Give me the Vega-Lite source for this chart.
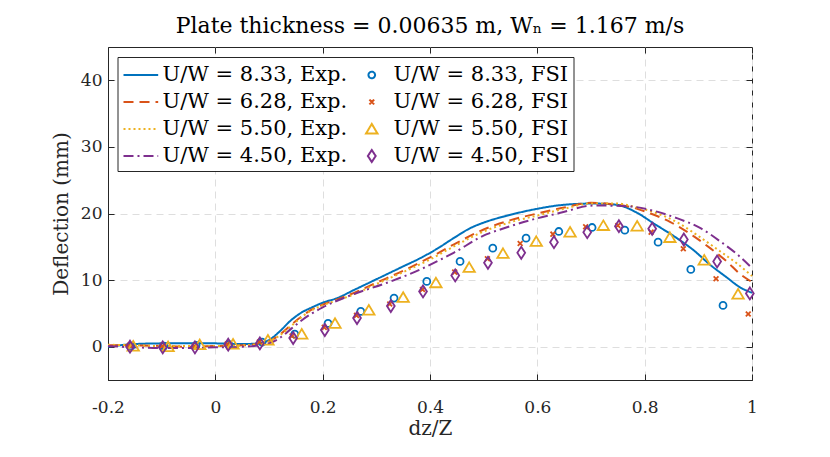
{
  "$schema": "https://vega.github.io/schema/vega-lite/v6.json",
  "width": 644,
  "height": 333,
  "autosize": "none",
  "padding": {"left": 108, "top": 47, "right": 78, "bottom": 77},
  "background": "white",
  "title": {
    "text": "Plate thickness = 0.00635 m, Wₙ = 1.167 m/s",
    "font": "DejaVu Serif",
    "fontSize": 22,
    "fontWeight": "normal",
    "color": "black",
    "anchor": "middle",
    "offset": 9
  },
  "datasets": {
    "exp": [
      {"s": "U/W = 8.33, Exp.", "x": -0.2, "y": 0.0},
      {"s": "U/W = 8.33, Exp.", "x": -0.15, "y": 0.4},
      {"s": "U/W = 8.33, Exp.", "x": -0.1, "y": 0.5},
      {"s": "U/W = 8.33, Exp.", "x": -0.05, "y": 0.5},
      {"s": "U/W = 8.33, Exp.", "x": 0.0, "y": 0.5},
      {"s": "U/W = 8.33, Exp.", "x": 0.05, "y": 0.4},
      {"s": "U/W = 8.33, Exp.", "x": 0.08, "y": 0.5},
      {"s": "U/W = 8.33, Exp.", "x": 0.1, "y": 1.0},
      {"s": "U/W = 8.33, Exp.", "x": 0.12, "y": 2.3},
      {"s": "U/W = 8.33, Exp.", "x": 0.14, "y": 3.9},
      {"s": "U/W = 8.33, Exp.", "x": 0.16, "y": 5.1},
      {"s": "U/W = 8.33, Exp.", "x": 0.18, "y": 5.9},
      {"s": "U/W = 8.33, Exp.", "x": 0.2, "y": 6.6},
      {"s": "U/W = 8.33, Exp.", "x": 0.227, "y": 7.3},
      {"s": "U/W = 8.33, Exp.", "x": 0.258, "y": 8.5},
      {"s": "U/W = 8.33, Exp.", "x": 0.289, "y": 9.7},
      {"s": "U/W = 8.33, Exp.", "x": 0.32, "y": 10.9},
      {"s": "U/W = 8.33, Exp.", "x": 0.351, "y": 12.1},
      {"s": "U/W = 8.33, Exp.", "x": 0.382, "y": 13.3},
      {"s": "U/W = 8.33, Exp.", "x": 0.413, "y": 14.7},
      {"s": "U/W = 8.33, Exp.", "x": 0.444, "y": 16.3},
      {"s": "U/W = 8.33, Exp.", "x": 0.475, "y": 17.8},
      {"s": "U/W = 8.33, Exp.", "x": 0.506, "y": 18.8},
      {"s": "U/W = 8.33, Exp.", "x": 0.54, "y": 19.6},
      {"s": "U/W = 8.33, Exp.", "x": 0.587, "y": 20.5},
      {"s": "U/W = 8.33, Exp.", "x": 0.649, "y": 21.3},
      {"s": "U/W = 8.33, Exp.", "x": 0.705, "y": 21.5},
      {"s": "U/W = 8.33, Exp.", "x": 0.748, "y": 21.3},
      {"s": "U/W = 8.33, Exp.", "x": 0.786, "y": 20.1},
      {"s": "U/W = 8.33, Exp.", "x": 0.817, "y": 18.5},
      {"s": "U/W = 8.33, Exp.", "x": 0.86, "y": 16.3},
      {"s": "U/W = 8.33, Exp.", "x": 0.891, "y": 14.5},
      {"s": "U/W = 8.33, Exp.", "x": 0.922, "y": 12.3},
      {"s": "U/W = 8.33, Exp.", "x": 0.953, "y": 10.4},
      {"s": "U/W = 8.33, Exp.", "x": 0.978, "y": 8.9},
      {"s": "U/W = 8.33, Exp.", "x": 1.0, "y": 8.1},
      {"s": "U/W = 6.28, Exp.", "x": -0.2, "y": 0.2},
      {"s": "U/W = 6.28, Exp.", "x": -0.15, "y": 0.2},
      {"s": "U/W = 6.28, Exp.", "x": -0.1, "y": 0.1},
      {"s": "U/W = 6.28, Exp.", "x": -0.05, "y": 0.0},
      {"s": "U/W = 6.28, Exp.", "x": 0.0, "y": 0.1},
      {"s": "U/W = 6.28, Exp.", "x": 0.05, "y": 0.2},
      {"s": "U/W = 6.28, Exp.", "x": 0.08, "y": 0.4},
      {"s": "U/W = 6.28, Exp.", "x": 0.1, "y": 0.8},
      {"s": "U/W = 6.28, Exp.", "x": 0.12, "y": 1.8},
      {"s": "U/W = 6.28, Exp.", "x": 0.14, "y": 3.2},
      {"s": "U/W = 6.28, Exp.", "x": 0.16, "y": 4.5},
      {"s": "U/W = 6.28, Exp.", "x": 0.18, "y": 5.6},
      {"s": "U/W = 6.28, Exp.", "x": 0.2, "y": 6.3},
      {"s": "U/W = 6.28, Exp.", "x": 0.25, "y": 7.8},
      {"s": "U/W = 6.28, Exp.", "x": 0.3, "y": 9.6},
      {"s": "U/W = 6.28, Exp.", "x": 0.35, "y": 11.4},
      {"s": "U/W = 6.28, Exp.", "x": 0.4, "y": 13.4},
      {"s": "U/W = 6.28, Exp.", "x": 0.45, "y": 15.6},
      {"s": "U/W = 6.28, Exp.", "x": 0.5, "y": 17.6},
      {"s": "U/W = 6.28, Exp.", "x": 0.55, "y": 19.0},
      {"s": "U/W = 6.28, Exp.", "x": 0.6, "y": 20.0},
      {"s": "U/W = 6.28, Exp.", "x": 0.65, "y": 20.9},
      {"s": "U/W = 6.28, Exp.", "x": 0.7, "y": 21.6},
      {"s": "U/W = 6.28, Exp.", "x": 0.767, "y": 21.1},
      {"s": "U/W = 6.28, Exp.", "x": 0.811, "y": 20.0},
      {"s": "U/W = 6.28, Exp.", "x": 0.848, "y": 18.7},
      {"s": "U/W = 6.28, Exp.", "x": 0.891, "y": 16.6},
      {"s": "U/W = 6.28, Exp.", "x": 0.922, "y": 14.8},
      {"s": "U/W = 6.28, Exp.", "x": 0.953, "y": 12.8},
      {"s": "U/W = 6.28, Exp.", "x": 0.978, "y": 10.9},
      {"s": "U/W = 6.28, Exp.", "x": 1.0, "y": 9.7},
      {"s": "U/W = 5.50, Exp.", "x": -0.2, "y": 0.3},
      {"s": "U/W = 5.50, Exp.", "x": -0.15, "y": 0.2},
      {"s": "U/W = 5.50, Exp.", "x": -0.1, "y": 0.1},
      {"s": "U/W = 5.50, Exp.", "x": -0.05, "y": 0.1},
      {"s": "U/W = 5.50, Exp.", "x": 0.0, "y": 0.1},
      {"s": "U/W = 5.50, Exp.", "x": 0.05, "y": 0.2},
      {"s": "U/W = 5.50, Exp.", "x": 0.08, "y": 0.4},
      {"s": "U/W = 5.50, Exp.", "x": 0.1, "y": 0.8},
      {"s": "U/W = 5.50, Exp.", "x": 0.12, "y": 1.7},
      {"s": "U/W = 5.50, Exp.", "x": 0.14, "y": 3.0},
      {"s": "U/W = 5.50, Exp.", "x": 0.16, "y": 4.4},
      {"s": "U/W = 5.50, Exp.", "x": 0.18, "y": 5.5},
      {"s": "U/W = 5.50, Exp.", "x": 0.2, "y": 6.2},
      {"s": "U/W = 5.50, Exp.", "x": 0.25, "y": 7.6},
      {"s": "U/W = 5.50, Exp.", "x": 0.3, "y": 9.4},
      {"s": "U/W = 5.50, Exp.", "x": 0.35, "y": 11.2},
      {"s": "U/W = 5.50, Exp.", "x": 0.4, "y": 13.1},
      {"s": "U/W = 5.50, Exp.", "x": 0.45, "y": 15.3},
      {"s": "U/W = 5.50, Exp.", "x": 0.5, "y": 17.3},
      {"s": "U/W = 5.50, Exp.", "x": 0.55, "y": 18.7},
      {"s": "U/W = 5.50, Exp.", "x": 0.6, "y": 19.7},
      {"s": "U/W = 5.50, Exp.", "x": 0.65, "y": 20.7},
      {"s": "U/W = 5.50, Exp.", "x": 0.7, "y": 21.5},
      {"s": "U/W = 5.50, Exp.", "x": 0.75, "y": 21.5},
      {"s": "U/W = 5.50, Exp.", "x": 0.78, "y": 21.0},
      {"s": "U/W = 5.50, Exp.", "x": 0.817, "y": 20.2},
      {"s": "U/W = 5.50, Exp.", "x": 0.86, "y": 18.7},
      {"s": "U/W = 5.50, Exp.", "x": 0.904, "y": 16.4},
      {"s": "U/W = 5.50, Exp.", "x": 0.941, "y": 14.3},
      {"s": "U/W = 5.50, Exp.", "x": 0.972, "y": 12.5},
      {"s": "U/W = 5.50, Exp.", "x": 1.0, "y": 10.6},
      {"s": "U/W = 4.50, Exp.", "x": -0.2, "y": 0.1},
      {"s": "U/W = 4.50, Exp.", "x": -0.15, "y": -0.1},
      {"s": "U/W = 4.50, Exp.", "x": -0.1, "y": -0.2},
      {"s": "U/W = 4.50, Exp.", "x": -0.05, "y": -0.2},
      {"s": "U/W = 4.50, Exp.", "x": 0.0, "y": -0.1},
      {"s": "U/W = 4.50, Exp.", "x": 0.05, "y": 0.0},
      {"s": "U/W = 4.50, Exp.", "x": 0.08, "y": 0.2},
      {"s": "U/W = 4.50, Exp.", "x": 0.1, "y": 0.5},
      {"s": "U/W = 4.50, Exp.", "x": 0.12, "y": 1.3},
      {"s": "U/W = 4.50, Exp.", "x": 0.14, "y": 2.6},
      {"s": "U/W = 4.50, Exp.", "x": 0.16, "y": 3.9},
      {"s": "U/W = 4.50, Exp.", "x": 0.18, "y": 5.0},
      {"s": "U/W = 4.50, Exp.", "x": 0.2, "y": 5.9},
      {"s": "U/W = 4.50, Exp.", "x": 0.258, "y": 7.9},
      {"s": "U/W = 4.50, Exp.", "x": 0.32, "y": 9.6},
      {"s": "U/W = 4.50, Exp.", "x": 0.382, "y": 11.6},
      {"s": "U/W = 4.50, Exp.", "x": 0.444, "y": 14.1},
      {"s": "U/W = 4.50, Exp.", "x": 0.506, "y": 16.9},
      {"s": "U/W = 4.50, Exp.", "x": 0.531, "y": 17.6},
      {"s": "U/W = 4.50, Exp.", "x": 0.587, "y": 19.0},
      {"s": "U/W = 4.50, Exp.", "x": 0.643, "y": 20.1},
      {"s": "U/W = 4.50, Exp.", "x": 0.705, "y": 21.2},
      {"s": "U/W = 4.50, Exp.", "x": 0.767, "y": 21.1},
      {"s": "U/W = 4.50, Exp.", "x": 0.817, "y": 20.4},
      {"s": "U/W = 4.50, Exp.", "x": 0.86, "y": 19.3},
      {"s": "U/W = 4.50, Exp.", "x": 0.904, "y": 17.8},
      {"s": "U/W = 4.50, Exp.", "x": 0.941, "y": 15.8},
      {"s": "U/W = 4.50, Exp.", "x": 0.972, "y": 13.9},
      {"s": "U/W = 4.50, Exp.", "x": 1.0, "y": 11.8}
    ],
    "fsi": [
      {"s": "U/W = 8.33, FSI", "x": -0.157, "y": 0.1},
      {"s": "U/W = 8.33, FSI", "x": -0.096, "y": 0.1},
      {"s": "U/W = 8.33, FSI", "x": -0.036, "y": 0.2},
      {"s": "U/W = 8.33, FSI", "x": 0.025, "y": 0.3},
      {"s": "U/W = 8.33, FSI", "x": 0.087, "y": 0.7},
      {"s": "U/W = 8.33, FSI", "x": 0.148, "y": 1.9},
      {"s": "U/W = 8.33, FSI", "x": 0.21, "y": 3.5},
      {"s": "U/W = 8.33, FSI", "x": 0.271, "y": 5.3},
      {"s": "U/W = 8.33, FSI", "x": 0.333, "y": 7.3},
      {"s": "U/W = 8.33, FSI", "x": 0.394, "y": 9.8},
      {"s": "U/W = 8.33, FSI", "x": 0.456, "y": 12.8},
      {"s": "U/W = 8.33, FSI", "x": 0.517, "y": 14.8},
      {"s": "U/W = 8.33, FSI", "x": 0.579, "y": 16.3},
      {"s": "U/W = 8.33, FSI", "x": 0.64, "y": 17.3},
      {"s": "U/W = 8.33, FSI", "x": 0.702, "y": 17.9},
      {"s": "U/W = 8.33, FSI", "x": 0.763, "y": 17.5},
      {"s": "U/W = 8.33, FSI", "x": 0.825, "y": 15.7},
      {"s": "U/W = 8.33, FSI", "x": 0.886, "y": 11.6},
      {"s": "U/W = 8.33, FSI", "x": 0.946, "y": 6.2},
      {"s": "U/W = 6.28, FSI", "x": -0.16, "y": 0.2},
      {"s": "U/W = 6.28, FSI", "x": -0.099, "y": 0.1},
      {"s": "U/W = 6.28, FSI", "x": -0.039, "y": 0.1},
      {"s": "U/W = 6.28, FSI", "x": 0.022, "y": 0.4},
      {"s": "U/W = 6.28, FSI", "x": 0.082, "y": 0.7},
      {"s": "U/W = 6.28, FSI", "x": 0.143, "y": 1.6},
      {"s": "U/W = 6.28, FSI", "x": 0.203, "y": 2.9},
      {"s": "U/W = 6.28, FSI", "x": 0.263, "y": 4.7},
      {"s": "U/W = 6.28, FSI", "x": 0.325, "y": 6.4},
      {"s": "U/W = 6.28, FSI", "x": 0.386, "y": 8.6},
      {"s": "U/W = 6.28, FSI", "x": 0.446, "y": 11.2},
      {"s": "U/W = 6.28, FSI", "x": 0.507, "y": 13.2},
      {"s": "U/W = 6.28, FSI", "x": 0.568, "y": 15.5},
      {"s": "U/W = 6.28, FSI", "x": 0.629, "y": 16.9},
      {"s": "U/W = 6.28, FSI", "x": 0.69, "y": 18.0},
      {"s": "U/W = 6.28, FSI", "x": 0.75, "y": 18.2},
      {"s": "U/W = 6.28, FSI", "x": 0.812, "y": 17.2},
      {"s": "U/W = 6.28, FSI", "x": 0.872, "y": 14.7},
      {"s": "U/W = 6.28, FSI", "x": 0.933, "y": 10.2},
      {"s": "U/W = 6.28, FSI", "x": 0.993, "y": 4.9},
      {"s": "U/W = 5.50, FSI", "x": -0.153, "y": 0.1},
      {"s": "U/W = 5.50, FSI", "x": -0.088, "y": 0.0},
      {"s": "U/W = 5.50, FSI", "x": -0.029, "y": 0.3},
      {"s": "U/W = 5.50, FSI", "x": 0.033, "y": 0.4},
      {"s": "U/W = 5.50, FSI", "x": 0.098, "y": 1.0},
      {"s": "U/W = 5.50, FSI", "x": 0.161, "y": 1.9},
      {"s": "U/W = 5.50, FSI", "x": 0.223, "y": 3.5},
      {"s": "U/W = 5.50, FSI", "x": 0.286, "y": 5.5},
      {"s": "U/W = 5.50, FSI", "x": 0.35, "y": 7.4},
      {"s": "U/W = 5.50, FSI", "x": 0.411, "y": 9.6},
      {"s": "U/W = 5.50, FSI", "x": 0.473, "y": 11.9},
      {"s": "U/W = 5.50, FSI", "x": 0.536, "y": 14.0},
      {"s": "U/W = 5.50, FSI", "x": 0.598, "y": 15.8},
      {"s": "U/W = 5.50, FSI", "x": 0.661, "y": 17.2},
      {"s": "U/W = 5.50, FSI", "x": 0.723, "y": 18.2},
      {"s": "U/W = 5.50, FSI", "x": 0.786, "y": 18.1},
      {"s": "U/W = 5.50, FSI", "x": 0.847, "y": 16.4},
      {"s": "U/W = 5.50, FSI", "x": 0.911, "y": 13.0},
      {"s": "U/W = 5.50, FSI", "x": 0.974, "y": 7.9},
      {"s": "U/W = 4.50, FSI", "x": -0.159, "y": 0.0},
      {"s": "U/W = 4.50, FSI", "x": -0.098, "y": -0.1},
      {"s": "U/W = 4.50, FSI", "x": -0.038, "y": -0.1},
      {"s": "U/W = 4.50, FSI", "x": 0.024, "y": 0.3},
      {"s": "U/W = 4.50, FSI", "x": 0.083, "y": 0.5},
      {"s": "U/W = 4.50, FSI", "x": 0.145, "y": 1.3},
      {"s": "U/W = 4.50, FSI", "x": 0.204, "y": 2.5},
      {"s": "U/W = 4.50, FSI", "x": 0.264, "y": 4.3},
      {"s": "U/W = 4.50, FSI", "x": 0.327, "y": 6.1},
      {"s": "U/W = 4.50, FSI", "x": 0.387, "y": 8.3},
      {"s": "U/W = 4.50, FSI", "x": 0.447, "y": 10.7},
      {"s": "U/W = 4.50, FSI", "x": 0.508, "y": 12.6},
      {"s": "U/W = 4.50, FSI", "x": 0.57, "y": 14.1},
      {"s": "U/W = 4.50, FSI", "x": 0.631, "y": 15.7},
      {"s": "U/W = 4.50, FSI", "x": 0.693, "y": 17.2},
      {"s": "U/W = 4.50, FSI", "x": 0.752, "y": 18.1},
      {"s": "U/W = 4.50, FSI", "x": 0.814, "y": 17.7},
      {"s": "U/W = 4.50, FSI", "x": 0.873, "y": 16.1},
      {"s": "U/W = 4.50, FSI", "x": 0.935, "y": 12.8},
      {"s": "U/W = 4.50, FSI", "x": 0.996, "y": 8.0}
    ]
  },
  "config": {
    "view": {"stroke": "#262626", "strokeWidth": 1},
    "font": "DejaVu Serif",
    "axis": {
      "labelFont": "DejaVu Serif",
      "labelFontSize": 17,
      "labelColor": "#262626",
      "labelFlush": false,
      "labelOverlap": false,
      "titleFont": "DejaVu Serif",
      "titleFontSize": 20,
      "titleFontWeight": "normal",
      "titleColor": "#262626",
      "domainColor": "#262626",
      "tickColor": "#262626",
      "tickSize": -6,
      "gridColor": "#dedede",
      "gridDash": [7, 5],
      "gridWidth": 1
    },
    "legend": {
      "orient": "none",
      "legendX": 9.5,
      "legendY": 10,
      "padding": 5,
      "columns": 2,
      "columnPadding": 6,
      "rowPadding": 4,
      "symbolSize": 576,
      "labelOffset": 14,
      "labelFont": "DejaVu Serif",
      "labelFontSize": 21,
      "labelColor": "black",
      "labelLimit": 400,
      "strokeColor": "#262626",
      "fillColor": "white",
      "cornerRadius": 0
    }
  },
  "layer": [
    {
      "data": {"name": "exp"},
      "mark": {"type": "line", "strokeWidth": 2, "interpolate": "monotone"},
      "encoding": {
        "x": {
          "field": "x", "type": "quantitative",
          "scale": {"domain": [-0.2, 1], "nice": false, "zero": false},
          "axis": {
            "values": [-0.2, 0, 0.2, 0.4, 0.6, 0.8, 1],
            "labelExpr": "replace(format(datum.value, '~g'), '−', '-')",
            "labelPadding": 25,
            "title": "dz/Z",
            "titlePadding": 3
          }
        },
        "y": {
          "field": "y", "type": "quantitative",
          "scale": {"domain": [-5, 45], "nice": false, "zero": false},
          "axis": {
            "values": [0, 10, 20, 30, 40],
            "labelPadding": 12,
            "title": "Deflection (mm)",
            "titlePadding": 9
          }
        },
        "color": {
          "field": "s", "type": "nominal",
          "scale": {
            "domain": ["U/W = 8.33, Exp.", "U/W = 6.28, Exp.", "U/W = 5.50, Exp.", "U/W = 4.50, Exp.", "U/W = 8.33, FSI", "U/W = 6.28, FSI", "U/W = 5.50, FSI", "U/W = 4.50, FSI"],
            "range": ["#0072BD", "#D95319", "#EDB120", "#7E2F8E", "#0072BD", "#D95319", "#EDB120", "#7E2F8E"]
          },
          "legend": {
            "title": null,
            "encode": {
              "symbols": {
                "update": {
                  "shape": {"signal": "indexof(datum.value, 'Exp') >= 0 ? 'M-1,0L1.89,0' : indexof(datum.value, '8.33') >= 0 ? 'M0.715,0A0.275,0.275 0 1,1 0.165,0A0.275,0.275 0 1,1 0.715,0Z' : indexof(datum.value, '6.28') >= 0 ? 'M0.24,-0.2L0.64,0.2M0.64,-0.2L0.24,0.2' : indexof(datum.value, '5.50') >= 0 ? 'M0.44,-0.425L0.915,0.375L-0.035,0.375Z' : 'M0.44,-0.5L0.765,0L0.44,0.5L0.115,0Z'"},
                  "strokeDash": {"signal": "indexof(datum.value, '6.28, Exp') >= 0 ? [10, 6] : indexof(datum.value, '5.50, Exp') >= 0 ? [2, 3] : indexof(datum.value, '4.50, Exp') >= 0 ? [10, 4, 2, 4] : [1, 0]"},
                  "stroke": {"scale": "color", "field": "value"},
                  "fill": {"value": "transparent"},
                  "strokeWidth": {"value": 2},
                  "opacity": {"value": 1}
                }
              }
            }
          }
        },
        "strokeDash": {
          "field": "s", "type": "nominal",
          "scale": {
            "domain": ["U/W = 8.33, Exp.", "U/W = 6.28, Exp.", "U/W = 5.50, Exp.", "U/W = 4.50, Exp."],
            "range": [[1, 0], [10, 6], [2, 3], [10, 4, 2, 4]]
          },
          "legend": null
        }
      }
    },
    {
      "data": {"name": "fsi"},
      "mark": {"type": "point", "filled": false, "strokeWidth": 1.8, "size": 144, "opacity": 1},
      "encoding": {
        "x": {"field": "x", "type": "quantitative", "axis": null},
        "y": {"field": "y", "type": "quantitative", "axis": null},
        "color": {"field": "s", "type": "nominal"},
        "shape": {
          "field": "s", "type": "nominal",
          "scale": {
            "domain": ["U/W = 8.33, FSI", "U/W = 6.28, FSI", "U/W = 5.50, FSI", "U/W = 4.50, FSI"],
            "range": ["M0.58,0A0.58,0.58 0 1,1 -0.58,0A0.58,0.58 0 1,1 0.58,0Z", "M-0.4,-0.4L0.4,0.4M0.4,-0.4L-0.4,0.4", "M0,-0.85L0.95,0.75L-0.95,0.75Z", "M0,-1L0.65,0L0,1L-0.65,0Z"]
          },
          "legend": null
        }
      }
    },
    {
      "data": {"name": "fsi"},
      "mark": {"type": "point", "opacity": 0},
      "encoding": {
        "x": {
          "field": "x", "type": "quantitative",
          "axis": {"orient": "top", "values": [-0.2, 0, 0.2, 0.4, 0.6, 0.8, 1], "labels": false, "grid": false, "domain": false, "title": null}
        },
        "y": {
          "field": "y", "type": "quantitative",
          "axis": {"orient": "right", "values": [0, 10, 20, 30, 40], "labels": false, "grid": false, "domain": false, "title": null}
        }
      }
    }
  ],
  "resolve": {"axis": {"x": "independent", "y": "independent"}}
}
